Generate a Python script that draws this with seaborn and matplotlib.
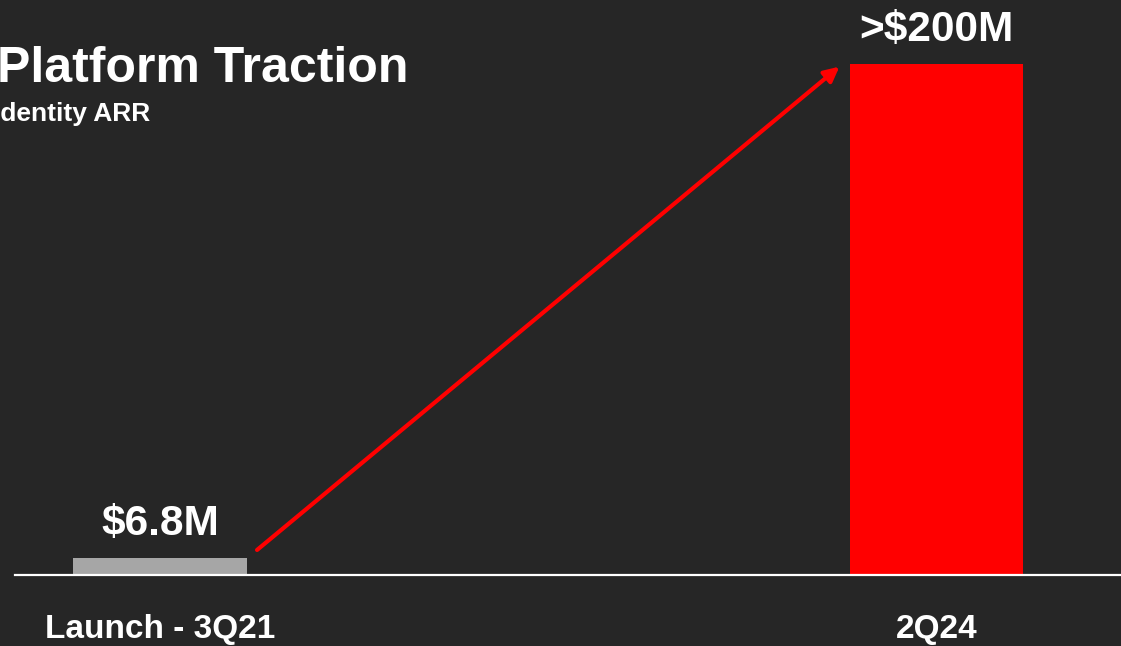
import matplotlib
matplotlib.use("Agg")
import matplotlib.pyplot as plt
import seaborn as sns
import pandas as pd

# data
periods = ["Launch - 3Q21", "2Q24"]
arr_musd = [6.8, 200]
value_labels = ["$6.8M", ">$200M"]
bar_colors = ["#a6a6a6", "#ff0000"]

bg = "#262626"
sns.set_theme(style="dark")
plt.rcParams["font.family"] = ["Liberation Sans", "DejaVu Sans"]
plt.rcParams["font.weight"] = "bold"

fig = plt.figure(figsize=(11.21, 6.46), dpi=100, facecolor=bg)
W, H = 1121, 646
ax = fig.add_axes([15 / W, 71 / H, 1106 / W, 562 / H])
ax.set_facecolor(bg)

df = pd.DataFrame({"period": periods, "arr": arr_musd})
bw = 0.224
sns.barplot(data=df, x="period", y="arr", hue="period", palette=bar_colors,
            width=bw, legend=False, ax=ax, saturation=1, linewidth=0)

ax.set_xlim(-0.1867, 1.2376)
ax.set_ylim(0, 220)

for i, (v, lab) in enumerate(zip(arr_musd, value_labels)):
    ax.annotate(lab, (i, v), xytext=(0, 16.5), textcoords="offset points",
                ha="center", va="baseline", color="white",
                fontsize=30.5, fontweight="bold")

# growth arrow from first bar to second
gap = 0.013
ax.annotate("", xy=(1 - bw / 2 - gap, arr_musd[1] - 1),
            xytext=(0 + bw / 2 + gap, arr_musd[0] + 3),
            arrowprops=dict(arrowstyle="-|>", color="#ff0000", lw=3,
                            mutation_scale=22, shrinkA=0, shrinkB=0))

for s in ["top", "right", "left"]:
    ax.spines[s].set_visible(False)
ax.spines["bottom"].set_color("white")
ax.spines["bottom"].set_linewidth(1.6)
ax.set_yticks([])
ax.set_xlabel("")
ax.set_ylabel("")
ax.tick_params(axis="x", length=0, pad=28, labelsize=24, colors="white")
for t in ax.get_xticklabels():
    t.set_fontweight("bold")
ax.grid(False)

fig.text(-3 / W, 1 - 82 / H, "Platform Traction", color="white",
         fontsize=36, fontweight="bold", va="baseline", ha="left")
fig.text(-7 / W, 1 - 121 / H, "Identity ARR", color="white",
         fontsize=19, fontweight="bold", va="baseline", ha="left")

fig.savefig("out.png", dpi=100, facecolor=bg)
